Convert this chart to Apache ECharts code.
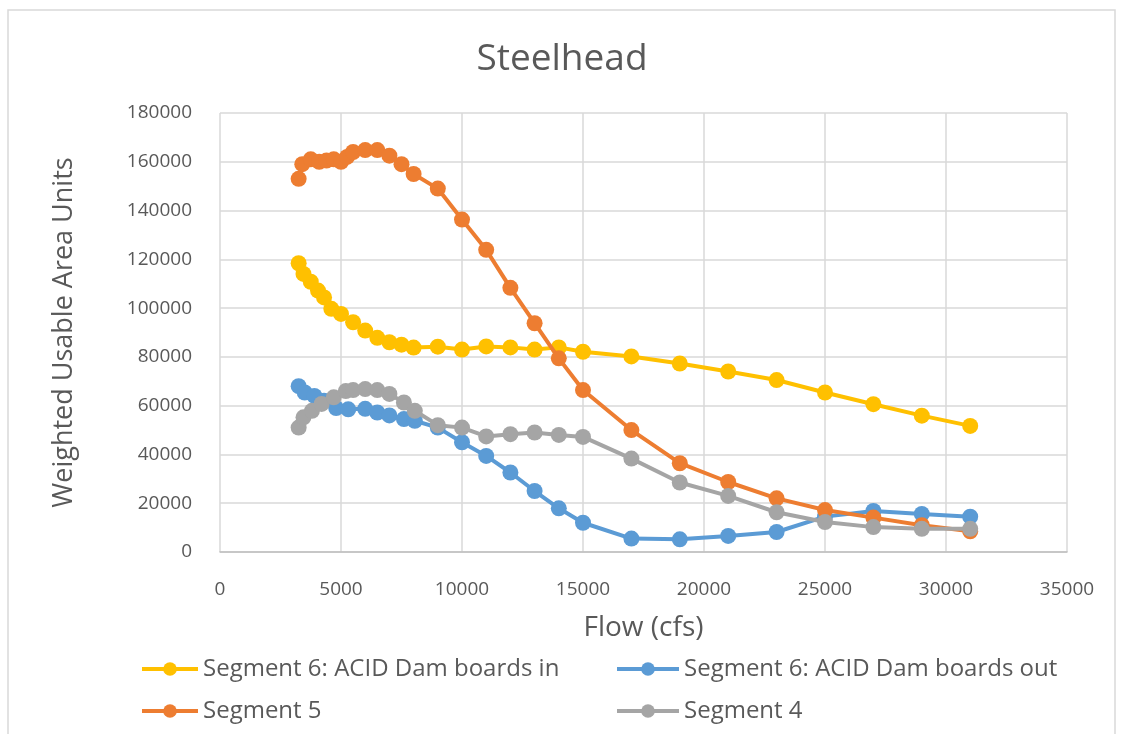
<!DOCTYPE html>
<html>
<head>
    <meta charset="utf-8">
    <title>Steelhead</title>
    <script src="https://cdn.jsdelivr.net/npm/echarts@6/dist/echarts.min.js"></script>
    <style>
        html, body { margin: 0; padding: 0; background: #fff; }
        #chart { width: 1124px; height: 734px; }
    </style>
</head>
<body>
    <div id="chart"></div>

<script type="text/javascript">
    // Segment 6: ACID Dam boards in
    var flowIn = [3250, 3450, 3750, 4050, 4300, 4600, 5000, 5500, 6000, 6500, 7000, 7500, 8000, 9000, 10000,
        11000, 12000, 13000, 14000, 15000, 17000, 19000, 21000, 23000, 25000, 27000, 29000, 31000];
    var wuaIn = [118400, 114000, 110800, 107200, 104400, 99700, 97600, 94200, 90800, 87800, 86000, 85000, 83800, 84200, 83000,
        84300, 83900, 83000, 83900, 82100, 80200, 77300, 74000, 70500, 65400, 60600, 55900, 51700];

    // Segment 6: ACID Dam boards out
    var flowOut = [3250, 3500, 3900, 4300, 4800, 5300, 6000, 6500, 7000, 7600, 8050, 9000, 10000,
        11000, 12000, 13000, 14000, 15000, 17000, 19000, 21000, 23000, 25000, 27000, 29000, 31000];
    var wuaOut = [68000, 65400, 64000, 62000, 59000, 58500, 58700, 57200, 56000, 54500, 53800, 51000, 45000,
        39400, 32600, 25000, 17900, 12000, 5500, 5200, 6600, 8200, 14500, 16800, 15600, 14500];

    // Segment 5
    var flowS5 = [3250, 3400, 3750, 4100, 4400, 4700, 5000, 5250, 5500, 6000, 6500, 7000, 7500, 8000, 9000, 10000,
        11000, 12000, 13000, 14000, 15000, 17000, 19000, 21000, 23000, 25000, 27000, 29000, 31000];
    var wuaS5 = [153000, 159000, 161000, 160000, 160500, 161000, 160000, 162000, 164000, 164800, 164800, 162500, 159000, 155000, 149000, 136300,
        123900, 108300, 93800, 79400, 66400, 50000, 36400, 28700, 22000, 17200, 14100, 11000, 8500];

    // Segment 4
    var flowS4 = [3250, 3450, 3800, 4200, 4700, 5200, 5500, 6000, 6500, 7000, 7600, 8050, 9000, 10000,
        11000, 12000, 13000, 14000, 15000, 17000, 19000, 21000, 23000, 25000, 27000, 29000, 31000];
    var wuaS4 = [51000, 55200, 57900, 60700, 63400, 66000, 66400, 66800, 66400, 64800, 61300, 57900, 52000, 51000,
        47400, 48300, 49000, 48000, 47200, 38300, 28500, 23000, 16300, 12300, 10200, 9500, 9500];

    var names = ['Segment 6: ACID Dam boards in', 'Segment 6: ACID Dam boards out', 'Segment 5', 'Segment 4'];
    var colors = ['#FFC000', '#5B9BD5', '#ED7D31', '#A5A5A5'];

    function pairs(xs, ys) {
        var out = [];
        for (var i = 0; i < xs.length; i++) out.push([xs[i], ys[i]]);
        return out;
    }

    var FONT = '"Open Sans", "Noto Sans", sans-serif';
    var GREY_TEXT = '#595959';

    function makeSeries(i, xs, ys) {
        return {
            name: names[i],
            type: 'line',
            data: pairs(xs, ys),
            symbol: 'circle',
            symbolSize: 16,
            lineStyle: { width: 4, color: colors[i] },
            itemStyle: { color: colors[i] },
            emphasis: { disabled: true },
            z: 2 + i
        };
    }

    function makeLegend(i, left, top, w) {
        return {
            data: [names[i]],
            left: left,
            top: top,
            padding: 0,
            itemWidth: w,
            itemHeight: 17,
            itemGap: 0,
            selectedMode: false,
            lineStyle: { width: 4 },
            textStyle: { fontFamily: FONT, fontSize: 24, color: GREY_TEXT }
        };
    }

    function plainNum(v) { return String(v); }

    var chart = echarts.init(document.getElementById('chart'));
    chart.setOption({
        backgroundColor: '#fff',
        animation: false,
        title: {
            text: 'Steelhead',
            left: 'center',
            top: 36,
            textStyle: { fontFamily: FONT, fontSize: 37, fontWeight: 'normal', color: GREY_TEXT }
        },
        graphic: [{
            type: 'rect',
            shape: { x: 8, y: 10, width: 1107, height: 760 },
            style: { fill: 'none', stroke: '#d9d9d9', lineWidth: 1.5 },
            silent: true
        }],
        grid: { left: 220, top: 113, right: 57, bottom: 182 },
        legend: [
            makeLegend(0, 140, 657, 56),
            makeLegend(1, 615, 657, 62),
            makeLegend(2, 140, 699, 56),
            makeLegend(3, 615, 699, 62)
        ],
        xAxis: {
            type: 'value',
            min: 0,
            max: 35000,
            interval: 5000,
            name: 'Flow (cfs)',
            nameLocation: 'middle',
            nameGap: 62,
            nameTextStyle: { fontFamily: FONT, fontSize: 28, color: GREY_TEXT },
            axisLine: { show: true, lineStyle: { color: '#bfbfbf', width: 1.5 } },
            axisTick: { show: false },
            axisLabel: { fontFamily: FONT, fontSize: 19, color: GREY_TEXT, margin: 28, formatter: plainNum },
            splitLine: { show: true, lineStyle: { color: '#d9d9d9', width: 1.5 } }
        },
        yAxis: {
            type: 'value',
            min: 0,
            max: 180000,
            interval: 20000,
            name: 'Weighted Usable Area Units',
            nameLocation: 'middle',
            nameGap: 142,
            nameTextStyle: { fontFamily: FONT, fontSize: 27, color: GREY_TEXT },
            axisLine: { show: false },
            axisTick: { show: false },
            axisLabel: { fontFamily: FONT, fontSize: 19, color: GREY_TEXT, margin: 28, formatter: plainNum },
            splitLine: { show: true, lineStyle: { color: '#d9d9d9', width: 1.5 } }
        },
        series: [
            makeSeries(0, flowIn, wuaIn),
            makeSeries(1, flowOut, wuaOut),
            makeSeries(2, flowS5, wuaS5),
            makeSeries(3, flowS4, wuaS4)
        ]
    });
</script>
</body>
</html>
